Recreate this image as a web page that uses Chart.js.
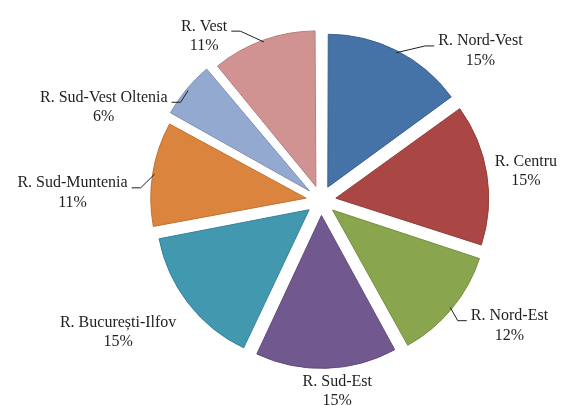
<!DOCTYPE html>
<html>
<head>
<meta charset="utf-8">
<script src="https://cdn.jsdelivr.net/npm/chart.js@4/dist/chart.umd.min.js"></script>
<style>
  body { margin: 0; background: #ffffff; }
  #wrap { width: 561px; height: 405px; position: relative; }
</style>
</head>
<body>
<div id="wrap"><canvas id="chart"></canvas></div>
<script>
// Data
const regions = ['R. Nord-Vest', 'R. Centru', 'R. Nord-Est', 'R. Sud-Est',
                 'R. București-Ilfov', 'R. Sud-Muntenia', 'R. Sud-Vest Oltenia', 'R. Vest'];
const shares = [15, 15, 12, 15, 15, 11, 6, 11];

// Style
const sliceColors = ['#4572A7', '#AA4643', '#89A54E', '#71588F', '#4198AF', '#DB843D', '#93A9CF', '#D19392'];
const sliceBorders = ['#3A6190', '#933C3A', '#768E43', '#614B7B', '#378397', '#C07334', '#7E92B3', '#B57F7E'];
// label placement relative to the slice edge point (dx to the near text edge, dy to block centre)
const labelNudge = [[41, 0], [8, -3], [19, 17], [11, 23], [-12, 29], [-25, 19], [-19, 18], [-36, -4]];
const FONT = '16px "Liberation Serif", serif';

const outsideLabels = {
    id: 'outsideLabels',
    afterDatasetsDraw(chart) {
        const ctx = chart.ctx;
        const meta = chart.getDatasetMeta(0);
        const data = chart.data.datasets[0].data;
        const total = data.reduce((a, b) => a + b, 0);
        ctx.save();
        ctx.font = FONT;
        ctx.fillStyle = '#1f1f1f';
        ctx.strokeStyle = '#1f1f1f';
        ctx.lineWidth = 1;
        ctx.textBaseline = 'middle';
        ctx.textAlign = 'center';
        meta.data.forEach((arc, i) => {
            const p = arc.getProps(['x', 'y', 'startAngle', 'endAngle', 'outerRadius', 'circumference'], true);
            const off = (arc.options.offset || 0) / 4;
            const fix = 1 - Math.sin(Math.min(Math.PI, p.circumference));
            const shift = off + off * fix;
            const mid = (p.startAngle + p.endAngle) / 2;
            const d = p.outerRadius + shift;
            const ex = p.x + Math.cos(mid) * d;
            const ey = p.y + Math.sin(mid) * d;
            const lines = [chart.data.labels[i], Math.round(data[i] / total * 100) + '%'];
            const w = Math.max(...lines.map(t => ctx.measureText(t).width));
            const [dx, dy] = labelNudge[i];
            const cy = ey + dy;
            const c = Math.cos(mid);
            let cx;
            if (Math.abs(c) < 0.2) {
                cx = ex + dx;
            } else if (c > 0) {
                cx = ex + dx + w / 2;
            } else {
                cx = ex + dx - w / 2;
            }
            lines.forEach((t, k) => ctx.fillText(t, cx, cy + (k - 0.5) * 19.5));
            // leader line
            if (Math.abs(c) >= 0.2 && Math.abs(dx) >= 15) {
                const sgn = c > 0 ? 1 : -1;
                const endX = ex + dx - sgn * 4;
                const endY = cy - 5;
                ctx.beginPath();
                ctx.moveTo(ex - Math.cos(mid) * 2, ey - Math.sin(mid) * 2);
                ctx.lineTo(endX - sgn * 9, endY);
                ctx.lineTo(endX, endY);
                ctx.stroke();
            }
        });
        ctx.restore();
    }
};

const ctx = document.getElementById('chart').getContext('2d');
new Chart(ctx, {
    type: 'pie',
    data: {
        labels: regions,
        datasets: [{
            data: shares,
            backgroundColor: sliceColors,
            borderColor: sliceBorders,
            borderWidth: 1,
            offset: 60
        }]
    },
    options: {
        responsive: true,
        maintainAspectRatio: false,
        animation: false,
        layout: { padding: { left: 81, right: 0, top: 20, bottom: 24 } },
        plugins: {
            legend: { display: false },
            tooltip: { enabled: false }
        }
    },
    plugins: [outsideLabels]
});
</script>
</body>
</html>
